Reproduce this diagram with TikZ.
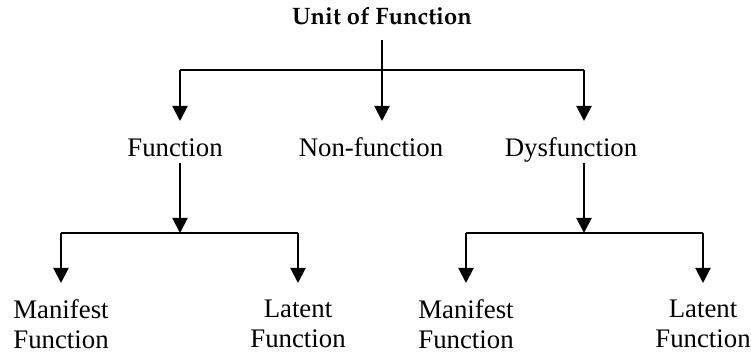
\documentclass[tikz,border=0pt]{standalone}
\usepackage[T1]{fontenc}
\usepackage{fontspec}
\setmainfont{Liberation Serif}
\usetikzlibrary{arrows.meta}

\tikzset{
  label/.style={inner sep=0pt,font=\fontsize{13.4}{15}\selectfont},
  branch/.style={line width=1pt},
  arrowline/.style={line width=1pt,-{Triangle[width=7.5pt,length=7.5pt]}}
}

\begin{document}
\begin{tikzpicture}[x=0.5pt,y=-0.5pt]
\useasboundingbox (0,0) rectangle (751,352);

%\newcommand\mygap{...}
\node[label,anchor=base,font={\fontencoding{T1}\fontfamily{ppl}\bfseries\fontsize{11.9}{14}\selectfont}] (unit) at (382,25) {Unit of Function};

\node[label,anchor=base] (func) at (175,157) {Function};
\node[label,anchor=base] (nonfunc) at (371,157) {Non-function};
\node[label,anchor=base] (dysfunc) at (571,157) {Dysfunction};

\node[label,align=center] (manifestA) at (61,324) {Manifest\\Function};
\node[label,align=center] (latentA) at (298,324) {Latent\\Function};
\node[label,align=center] (manifestB) at (466,324) {Manifest\\Function};
\node[label,align=center] (latentB) at (703,324) {Latent\\Function};

% skeleton of the tree
\coordinate (unit-out) at (382,40);
\coordinate (bar0) at (382,70);
\coordinate (bar0-left) at (180,70);
\coordinate (bar0-right) at (584,70);
\coordinate (func-in) at (180,121);
\coordinate (nonfunc-in) at (382,121);
\coordinate (dysfunc-in) at (584,121);

\coordinate (func-out) at (180,163);
\coordinate (bar1) at (180,233);
\coordinate (bar1-left) at (61,233);
\coordinate (bar1-right) at (298,233);
\coordinate (manifestA-in) at (61,283);
\coordinate (latentA-in) at (298,283);

\coordinate (dysfunc-out) at (584,163);
\coordinate (bar2) at (584,233);
\coordinate (bar2-left) at (466,233);
\coordinate (bar2-right) at (703,233);
\coordinate (manifestB-in) at (466,283);
\coordinate (latentB-in) at (703,283);

\draw[branch] (unit-out) -- (bar0);
\draw[branch] (bar0-left) -- (bar0-right);
\draw[arrowline] (bar0-left) -- (func-in);
\draw[arrowline] (bar0) -- (nonfunc-in);
\draw[arrowline] (bar0-right) -- (dysfunc-in);

\draw[arrowline] (func-out) -- (bar1);
\draw[branch] (bar1-left) -- (bar1-right);
\draw[arrowline] (bar1-left) -- (manifestA-in);
\draw[arrowline] (bar1-right) -- (latentA-in);

\draw[arrowline] (dysfunc-out) -- (bar2);
\draw[branch] (bar2-left) -- (bar2-right);
\draw[arrowline] (bar2-left) -- (manifestB-in);
\draw[arrowline] (bar2-right) -- (latentB-in);
\end{tikzpicture}
\end{document}
